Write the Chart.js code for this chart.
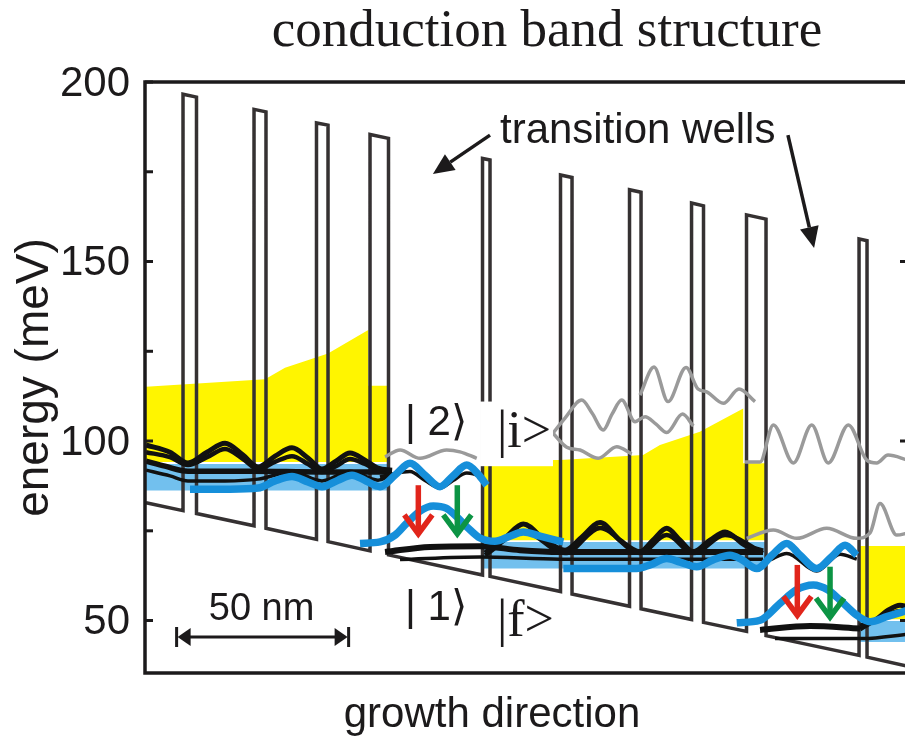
<!DOCTYPE html>
<html>
<head>
<meta charset="utf-8">
<title>conduction band structure</title>
<script src="https://cdn.jsdelivr.net/npm/chart.js@4/dist/chart.umd.min.js"></script>
<style>
  html, body { margin: 0; padding: 0; background: #ffffff; overflow: hidden; }
  canvas { display: block; }
</style>
</head>
<body>
<canvas id="band" width="912" height="744"></canvas>
<script>
// ---- conduction band edge: growth position (nm) vs energy (meV) ----
const bandX = [0, 10.76, 10.76, 14.68, 14.68, 31.40, 31.40, 34.88, 34.88, 49.56, 49.56, 52.91, 52.91,
  65.12, 65.12, 70.49, 70.49, 97.82, 97.82, 100.00, 100.00, 120.49, 120.49, 123.84, 123.84,
  140.55, 140.55, 143.90, 143.90, 158.58, 158.58, 162.06, 162.06, 174.56, 174.56, 180.23, 180.23,
  207.27, 207.27, 209.59, 209.59, 221.5];
const bandE = [82.8, 80.6, 196.6, 195.8, 79.8, 76.4, 192.4, 191.7, 75.7, 72.6, 188.6, 188.0, 72.0,
  69.4, 185.4, 184.3, 68.3, 62.7, 178.7, 178.3, 62.3, 58.1, 174.1, 173.4, 57.4,
  54.0, 170.0, 169.3, 53.3, 50.3, 166.3, 165.5, 49.5, 47.0, 163.0, 161.8, 45.8,
  40.3, 156.3, 155.8, 39.8, 37.3];

// ---- minibands (upper edge profile, flat lower edge) ----
const yellowAX = [0, 34.6, 40.4, 52.9, 64.6, 64.6, 70.5];
const yellowATop = [115.1, 117.2, 120.4, 124.4, 130.9, 115.4, 115.4];
const yellowBX = [97.8, 120.4, 144.5, 149.4, 161.0, 173.6, 173.6, 180.2];
const yellowBTop = [94.7, 94.7, 96.1, 98.9, 102.6, 109.1, 93.8, 93.8];
const yellowCX = [207.3, 221.5];
const yellowCTop = [70.8, 70.8];
const yellowFloor = [94.2, 72.4, 50.4];
const blueAX = [0, 70.5];
const blueBX = [97.8, 180.2];
const blueCX = [207.3, 221.5];
const blueTop = [93.6, 71.9, 49.9];
const blueFloor = [86.2, 64.5, 44.0];

// ---- wavefunctions, region A ----
const waveAX = [0, 6.98, 12.21, 17.73, 22.97, 28.20, 32.56, 37.50, 42.44, 47.09, 51.16, 55.23, 59.30, 63.66, 67.44, 71.51];
const waveA1E = [98.9, 96.9, 93.9, 96.9, 99.4, 96.1, 92.8, 95.8, 98.1, 95.3, 92.2, 94.4, 96.7, 94.7, 92.5, 91.9];
const waveA2E = [96.9, 95.5, 93.3, 95.5, 97.8, 95.0, 92.2, 94.2, 95.8, 93.6, 91.4, 93.0, 95.0, 93.6, 91.9, 91.6];
const waveA3X = [0, 5.52, 12.21, 30.81, 50.58, 71.51];
const waveA3E = [94.4, 93.0, 91.6, 91.6, 91.4, 91.4];
const waveA4X = [0, 6.98, 12.21, 22.97, 32.56, 42.44, 51.16, 59.30, 67.44, 71.51];
const waveA4E = [91.9, 90.3, 88.9, 88.9, 89.4, 91.4, 88.9, 91.6, 89.1, 90.8];

// ---- first transition well: |2>, |1> ----
const upper1X = [12.79, 24.42, 32.56, 37.50, 42.44, 47.09, 51.16, 55.81, 59.88, 63.95, 68.02, 72.38, 76.74, 81.10, 85.47, 89.24, 93.23, 96.51, 99.04];
const upper1E = [86.6, 86.6, 86.9, 88.9, 90.1, 88.6, 87.3, 89.1, 90.5, 88.9, 87.3, 90.5, 93.8, 90.5, 87.3, 90.3, 93.3, 90.8, 87.7];
const upper1bX = [68.02, 72.38, 76.74, 81.10, 85.47, 89.24, 93.23, 96.51, 97.97];
const upper1bE = [90.0, 91.0, 91.5, 89.0, 86.9, 89.0, 91.1, 90.3, 88.6];
const grey1X = [69.48, 73.84, 79.65, 87.41, 91.28, 96.13];
const grey1E = [95.6, 97.5, 95.2, 97.5, 97.0, 95.2];
const lower1X = [62.21, 68.02, 72.38, 75.78, 79.65, 83.52, 87.21, 90.32, 93.60, 97.09, 101.45, 105.81, 109.68, 114.53, 121.31];
const lower1E = [71.5, 71.9, 73.8, 77.1, 80.5, 81.9, 81.3, 78.9, 75.8, 73.0, 72.1, 73.5, 74.7, 73.5, 71.9];
const ground1X = [69.48, 82.56, 97.09, 108.72, 120.35, 179.36];
const ground1E = [69.1, 70.5, 70.7, 69.6, 69.1, 69.1];
const ground1bX = [73.84, 97.09, 120.35, 179.36];
const ground1bE = [67.0, 67.7, 67.1, 67.1];

// ---- region B ----
const waveB1X = [98.55, 104.36, 109.68, 115.99, 121.80, 126.74, 131.98, 137.79, 143.60, 147.38, 151.37, 155.23, 159.10, 163.95, 168.31, 174.13, 179.36];
const waveB1E = [68.8, 73.0, 76.9, 72.4, 69.6, 73.3, 77.3, 72.4, 69.2, 72.4, 75.7, 72.4, 69.2, 72.4, 74.7, 71.0, 69.4];
const waveB2X = [98.55, 109.68, 121.80, 131.98, 143.60, 151.37, 159.10, 168.31, 179.36];
const waveB2E = [68.2, 74.9, 68.8, 75.8, 68.8, 73.8, 68.8, 73.8, 68.8];
const greyB1X = [118.31, 121.80, 126.66, 129.65, 132.94, 135.47, 138.29, 142.15, 145.06, 148.26, 151.37, 155.96, 159.10];
const greyB1E = [102.2, 106.4, 111.4, 107.8, 103.1, 107.5, 111.4, 105.4, 106.8, 104.7, 102.4, 107.5, 104.2];
const greyB2X = [143.6, 147.67, 151.74, 156.98, 160.47, 162.99, 167.82, 172.38, 177.03];
const greyB2E = [112.8, 120.6, 111.0, 120.5, 114.5, 113.7, 110.5, 114.5, 111.0];
const greyB3X = [118.31, 122.3, 126.16, 131.48, 136.83, 141.19];
const greyB3E = [102.2, 98.3, 97.5, 95.2, 98.4, 96.4];

// ---- second transition well: |i>, |f> ----
const upper2X = [121.31, 131.98, 142.65, 146.51, 151.37, 155.23, 160.09, 164.83, 169.77, 173.26, 177.53, 181.98, 186.25, 190.12, 194.97, 199.42, 203.20, 206.60];
const upper2E = [64.5, 64.5, 64.5, 65.5, 67.3, 66.3, 65.0, 66.9, 68.2, 66.9, 64.5, 68.2, 71.5, 68.2, 64.5, 67.9, 71.0, 68.2];
const upper2bX = [181.4, 186.25, 194.97, 201.74, 206.6];
const upper2bE = [66.9, 68.7, 63.8, 68.5, 67.1];
const greyC1X = [174.13, 178.49, 182.36, 188.17, 193.52, 198.34, 204.16, 209.5, 212.41, 215.7, 221.5];
const greyC1E = [94.2, 94.2, 104.5, 93.9, 104.5, 93.9, 104.5, 94.7, 93.9, 96.1, 94.7];
const greyC2X = [174.62, 182.36, 189.16, 197.88, 206.6, 210.47, 213.37, 218.23, 221.5];
const greyC2E = [72.9, 75.2, 72.9, 75.7, 72.9, 74.4, 82.6, 73.8, 74.4];
const lower2X = [171.72, 178.49, 184.3, 188.95, 193.98, 198.26, 201.74, 206.6, 210.47, 215.32, 221.5];
const lower2E = [49.4, 50.1, 54.8, 58.5, 59.9, 58.5, 55.7, 51.5, 49.7, 51.1, 52.9];
const ground2X = [178.49, 193.02, 207.56];
const ground2E = [47.4, 48.5, 47.8];
const ground2bX = [182.85, 208.43, 221.5];
const ground2bE = [45.0, 45.0, 46.2];
const waveC1X = [207.56, 211.92, 215.7, 219.19, 221.5];
const waveC1E = [48.5, 50.1, 52.9, 54.3, 53.8];
const waveC2X = [207.56, 213.37, 219.19, 221.5];
const waveC2E = [47.6, 50.7, 52.6, 52.1];

// ---- optical transitions (nm, from meV, to meV) ----
const transX = [79.16, 90.49, 189.33, 198.84];
const transFrom = [87.7, 87.7, 65.5, 65.0];
const transTo = [73.3, 73.3, 50.6, 50.1];

// ---- y axis ticks ----
const yTickStep = 25;
const yLabelStep = 50;

// ---- styles ----
const SANS = '"Liberation Sans", Arial, "DejaVu Sans", sans-serif';
const SERIF = '"Liberation Serif", "Times New Roman", serif';
const INK = '#1c1a1b';
const YELLOW = '#fff500';
const LIGHTBLUE = '#72c0ee';
const BLUE = '#168fda';
const GREY = '#9a9a9a';
const WAVE = '#111111';
const transColor = ['#e1251b', '#0c9444', '#e1251b', '#0c9444'];

const pts = (xs, es) => xs.map((v, i) => ({ x: v, y: es[i] }));

const band = (xs, es, floor, color, order) => ({
  data: pts(xs, es), showLine: true, borderWidth: 0, pointRadius: 0,
  backgroundColor: color, fill: { value: floor }, tension: 0, order
});
const curve = (xs, es, color, width, order) => ({
  data: pts(xs, es), showLine: true, borderColor: color, borderWidth: width,
  pointRadius: 0, fill: false, cubicInterpolationMode: 'monotone', order,
  borderCapStyle: 'butt', borderJoinStyle: 'round'
});

const datasets = [
  band(yellowAX, yellowATop, yellowFloor[0], YELLOW, 100),
  band(yellowBX, yellowBTop, yellowFloor[1], YELLOW, 100),
  band(yellowCX, yellowCTop, yellowFloor[2], YELLOW, 100),
  band(blueAX, [blueTop[0], blueTop[0]], blueFloor[0], LIGHTBLUE, 95),
  band(blueBX, [blueTop[1], blueTop[1]], blueFloor[1], LIGHTBLUE, 95),
  band(blueCX, [blueTop[2], blueTop[2]], blueFloor[2], LIGHTBLUE, 95),
  {
    data: pts(bandX, bandE), showLine: true, borderColor: '#353132', borderWidth: 3.5,
    pointRadius: 0, tension: 0, fill: false, order: 90, borderJoinStyle: 'miter'
  },
  curve(waveAX, waveA1E, WAVE, 5, 70),
  curve(waveAX, waveA2E, WAVE, 4.5, 70),
  curve(waveA3X, waveA3E, WAVE, 5.5, 70),
  curve(waveA4X, waveA4E, WAVE, 3.5, 70),
  curve(ground1X, ground1E, WAVE, 6, 70),
  curve(ground1bX, ground1bE, WAVE, 3.5, 70),
  curve(waveB1X, waveB1E, WAVE, 5, 70),
  curve(waveB2X, waveB2E, WAVE, 4.5, 70),
  curve(ground2X, ground2E, WAVE, 6, 70),
  curve(ground2bX, ground2bE, WAVE, 3.5, 70),
  curve(waveC1X, waveC1E, WAVE, 5, 70),
  curve(waveC2X, waveC2E, WAVE, 4.5, 70),
  curve(grey1X, grey1E, GREY, 3.5, 65),
  curve(greyB1X, greyB1E, GREY, 3.5, 65),
  curve(greyB2X, greyB2E, GREY, 3.5, 65),
  curve(greyB3X, greyB3E, GREY, 3.5, 65),
  curve(greyC1X, greyC1E, GREY, 3.5, 65),
  curve(greyC2X, greyC2E, GREY, 3.5, 65),
  curve(upper1bX, upper1bE, WAVE, 3.5, 62),
  curve(upper2bX, upper2bE, WAVE, 3.5, 62),
  curve(upper1X, upper1E, BLUE, 7.5, 60),
  curve(lower1X, lower1E, BLUE, 7.5, 60),
  curve(upper2X, upper2E, BLUE, 7.5, 60),
  curve(lower2X, lower2E, BLUE, 7.5, 60)
];

// text annotations placed in data coordinates
const stateLabels = [
  { text: '| 2\u27E9', x: 75.3, y: 101.7, font: '42px ' + SANS, align: 'left' },
  { text: '| 1\u27E9', x: 75.3, y: 50.1, font: '42px ' + SANS, align: 'left' },
  { text: '|i>', x: 102.0, y: 98.4, font: '52px ' + SERIF, align: 'left' },
  { text: '|f>', x: 102.0, y: 45.6, font: '52px ' + SERIF, align: 'left' },
  { text: 'transition wells', x: 102.9, y: 183.1, font: '42px ' + SANS, align: 'left' },
  { text: '50 nm', x: 33.6, y: 50.1, font: '38px ' + SANS, align: 'center' }
];
const labelBackdrop = { x0: 97.1, x1: 118.3, e0: 93.0, e1: 111.0 };
const pointerArrows = [
  { x0: 100.0, e0: 185.2, x1: 83.4, e1: 174.4 },
  { x0: 186.6, e0: 185.2, x1: 194.2, e1: 153.8 }
];
const scaleBar = { x0: 8.9, x1: 58.9, e: 45.4 };

function headedLine(ctx, x0, y0, x1, y1, len, half) {
  const a = Math.atan2(y1 - y0, x1 - x0);
  const bx = x1 - len * Math.cos(a), by = y1 - len * Math.sin(a);
  ctx.beginPath(); ctx.moveTo(x0, y0); ctx.lineTo(bx, by); ctx.stroke();
  ctx.beginPath();
  ctx.moveTo(x1, y1);
  ctx.lineTo(bx + half * Math.sin(a), by - half * Math.cos(a));
  ctx.lineTo(bx - half * Math.sin(a), by + half * Math.cos(a));
  ctx.closePath(); ctx.fill();
}

const decor = {
  id: 'decor',
  afterDatasetsDraw(chart) {
    const { ctx, scales: { x, y } } = chart;
    const X = v => x.getPixelForValue(v), Y = v => y.getPixelForValue(v);
    ctx.save();

    // backdrop behind |i>
    ctx.fillStyle = '#ffffff';
    ctx.fillRect(X(labelBackdrop.x0), Y(labelBackdrop.e1),
      X(labelBackdrop.x1) - X(labelBackdrop.x0), Y(labelBackdrop.e0) - Y(labelBackdrop.e1));

    // optical transition arrows
    transX.forEach((t, i) => {
      const px = X(t), top = Y(transFrom[i]), tip = Y(transTo[i]);
      ctx.strokeStyle = transColor[i];
      ctx.lineWidth = 5.5;
      ctx.lineCap = 'butt';
      ctx.lineJoin = 'miter';
      ctx.beginPath(); ctx.moveTo(px, top); ctx.lineTo(px, tip - 4); ctx.stroke();
      ctx.beginPath();
      ctx.moveTo(px - 14, tip - 22); ctx.lineTo(px, tip - 3); ctx.lineTo(px + 14, tip - 22);
      ctx.stroke();
    });

    // pointer arrows for the transition wells
    ctx.strokeStyle = INK; ctx.fillStyle = INK; ctx.lineWidth = 3.5; ctx.lineCap = 'butt';
    pointerArrows.forEach(a => headedLine(ctx, X(a.x0), Y(a.e0), X(a.x1), Y(a.e1), 21, 9.5));

    // 50 nm scale bar
    const sx0 = X(scaleBar.x0), sx1 = X(scaleBar.x1), sy = Y(scaleBar.e);
    ctx.lineWidth = 3;
    ctx.beginPath(); ctx.moveTo(sx0 + 10, sy); ctx.lineTo(sx1 - 10, sy); ctx.stroke();
    ctx.beginPath();
    ctx.moveTo(sx0, sy - 10); ctx.lineTo(sx0, sy + 10);
    ctx.moveTo(sx1, sy - 10); ctx.lineTo(sx1, sy + 10);
    ctx.stroke();
    ctx.beginPath(); ctx.moveTo(sx0 + 1, sy); ctx.lineTo(sx0 + 14, sy - 9); ctx.lineTo(sx0 + 14, sy + 9); ctx.closePath(); ctx.fill();
    ctx.beginPath(); ctx.moveTo(sx1 - 1, sy); ctx.lineTo(sx1 - 14, sy - 9); ctx.lineTo(sx1 - 14, sy + 9); ctx.closePath(); ctx.fill();

    // labels
    ctx.fillStyle = INK;
    ctx.textBaseline = 'alphabetic';
    stateLabels.forEach(l => {
      ctx.font = l.font;
      ctx.textAlign = l.align;
      ctx.fillText(l.text, X(l.x), Y(l.y));
    });
    ctx.restore();
  },
  afterDraw(chart) {
    const { ctx, chartArea: a, scales: { y } } = chart;
    ctx.save();
    ctx.strokeStyle = INK;
    ctx.lineWidth = 3.5;
    ctx.strokeRect(a.left, a.top, a.right - a.left, a.bottom - a.top);
    ctx.lineWidth = 3;
    y.ticks.forEach(t => {
      if (t.value % yTickStep !== 0) return;
      const py = y.getPixelForValue(t.value);
      ctx.beginPath();
      ctx.moveTo(a.left, py); ctx.lineTo(a.left + 8, py);
      if (t.value % yLabelStep === 0) { ctx.moveTo(a.right, py); ctx.lineTo(a.right - 8, py); }
      ctx.stroke();
    });
    ctx.fillStyle = INK;
    ctx.textAlign = 'center';
    ctx.textBaseline = 'alphabetic';
    ctx.font = '53px ' + SERIF;
    ctx.fillText('conduction band structure', 547, 46);
    ctx.font = '42px ' + SANS;
    ctx.fillText('growth direction', 492, 727);
    ctx.restore();
  }
};

new Chart(document.getElementById('band'), {
  type: 'scatter',
  data: { datasets },
  options: {
    responsive: false,
    animation: false,
    devicePixelRatio: 1,
    layout: { padding: { top: 82, right: 4, bottom: 71, left: 0 } },
    plugins: {
      legend: { display: false },
      tooltip: { enabled: false },
      title: { display: false }
    },
    events: [],
    scales: {
      x: { type: 'linear', display: false, min: -0.29, max: 221.5 },
      y: {
        type: 'linear', min: 35.4, max: 200,
        afterFit(scale) { scale.width = 145; },
        grid: { display: false, drawTicks: false },
        border: { display: false },
        ticks: {
          stepSize: yTickStep, includeBounds: false, padding: 15, labelOffset: 2,
          color: INK, font: { family: SANS, size: 42 },
          callback: v => (v % yLabelStep === 0 ? String(v) : '')
        },
        title: {
          display: true, text: 'energy (meV)', color: INK,
          font: { family: SANS, size: 46 }, padding: { top: 8, bottom: 0 }
        }
      }
    }
  },
  plugins: [decor]
});
</script>
</body>
</html>
